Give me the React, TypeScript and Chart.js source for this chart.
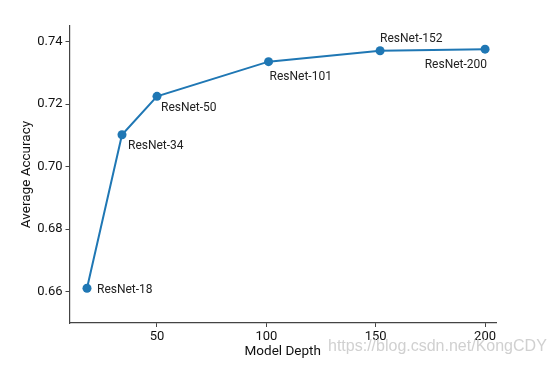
import React, { useEffect, useRef } from "react";
import { Chart, registerables } from "chart.js";

Chart.register(...registerables);

const depths = [18, 34, 50, 101, 152, 200];
const accuracies = [0.6611, 0.7102, 0.7225, 0.7336, 0.7371, 0.7376];
const modelNames = ["ResNet-18", "ResNet-34", "ResNet-50", "ResNet-101", "ResNet-152", "ResNet-200"];
const xTicks = [50, 100, 150, 200];
const yTicks = [0.66, 0.68, 0.7, 0.72, 0.74];

// label placement style: [dx, dy, align]
const labelStyle: [number, number, CanvasTextAlign][] = [
  [10, 1.5, "left"],
  [6, 11.5, "left"],
  [4, 11.5, "left"],
  [1, 15.5, "left"],
  [0, -12, "left"],
  [2, 15.5, "right"],
];

const FONT = "Roboto, 'DejaVu Sans', sans-serif";

const labelPlugin = {
  id: "pointLabels",
  afterDatasetsDraw(chart: any) {
    const ctx = chart.ctx;
    const meta = chart.getDatasetMeta(0);
    ctx.save();
    ctx.font = `12px ${FONT}`;
    ctx.fillStyle = "#222";
    ctx.textBaseline = "middle";
    meta.data.forEach((pt: any, i: number) => {
      const [dx, dy, align] = labelStyle[i];
      ctx.textAlign = align;
      ctx.fillText(modelNames[i], pt.x + dx, pt.y + dy);
    });
    ctx.restore();
  },
};

const watermarkPlugin = {
  id: "watermark",
  afterDraw(chart: any) {
    const ctx = chart.ctx;
    ctx.save();
    ctx.font = `16px 'Liberation Sans', Arial, sans-serif`;
    ctx.fillStyle = "rgba(200,200,200,0.85)";
    ctx.textAlign = "left";
    ctx.textBaseline = "middle";
    ctx.fillText("https://blog.csdn.net/KongCDY", 328, 347);
    ctx.restore();
  },
};

export default function App() {
  const ref = useRef<HTMLCanvasElement>(null);
  useEffect(() => {
    if (!ref.current) return;
    const chart = new Chart(ref.current, {
      type: "line",
      data: {
        datasets: [
          {
            data: depths.map((d, i) => ({ x: d, y: accuracies[i] })),
            borderColor: "#1f77b4",
            backgroundColor: "#1f77b4",
            borderWidth: 2,
            pointRadius: 4.5,
            pointBorderWidth: 0,
            tension: 0,
            clip: false as any,
          },
        ],
      },
      options: {
        responsive: false,
        animation: false,
        layout: { padding: { top: 26, right: 60, left: 0, bottom: 0 } },
        plugins: { legend: { display: false }, tooltip: { enabled: false } },
        scales: {
          x: {
            type: "linear",
            min: 10,
            max: 205,
            afterBuildTicks: (s: any) => {
              s.ticks = xTicks.map((v) => ({ value: v }));
            },
            afterFit: (s: any) => {
              s.height = 42;
            },
            grid: { drawOnChartArea: false, drawTicks: true, tickLength: 4, color: "#444" },
            border: { display: true, color: "#444", width: 1.2 },
            ticks: { color: "#111", font: { family: FONT, size: 13 }, padding: 2, maxRotation: 0 },
            title: {
              display: true,
              text: "Model Depth",
              color: "#111",
              font: { family: FONT, size: 13.5 },
              padding: { top: 0, bottom: 5 },
            },
          },
          y: {
            type: "linear",
            min: 0.65,
            max: 0.745,
            afterBuildTicks: (s: any) => {
              s.ticks = yTicks.map((v) => ({ value: v }));
            },
            afterFit: (s: any) => {
              s.width = 69.5;
            },
            grid: { drawOnChartArea: false, drawTicks: true, tickLength: 4, color: "#444" },
            border: { display: true, color: "#444", width: 1.2 },
            ticks: {
              color: "#111",
              font: { family: FONT, size: 13 },
              padding: 3,
              callback: (v: any) => Number(v).toFixed(2),
            },
            title: {
              display: true,
              text: "Average Accuracy",
              color: "#111",
              font: { family: FONT, size: 13.5 },
              padding: { top: 19, bottom: 0 },
            },
          },
        },
      },
      plugins: [labelPlugin, watermarkPlugin],
    });
    return () => chart.destroy();
  }, []);
  return (
    <div style={{ position: "absolute", left: 0, top: 0, width: 556, height: 365, background: "#fff" }}>
      <canvas ref={ref} width={556} height={365} />
    </div>
  );
}
